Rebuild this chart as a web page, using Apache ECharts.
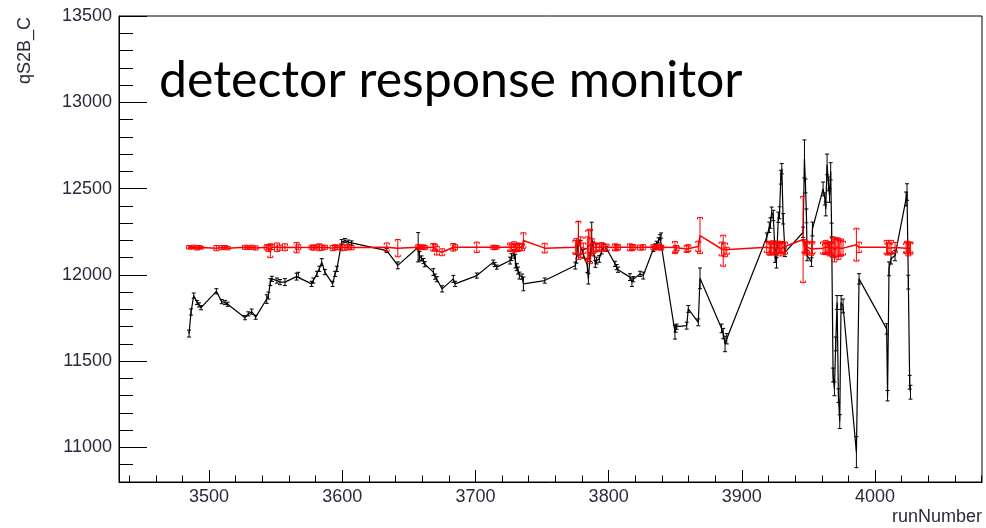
<!DOCTYPE html>
<html>
<head>
<meta charset="utf-8">
<script src="https://cdn.jsdelivr.net/npm/echarts@6/dist/echarts.min.js"></script>
<style>
  html, body { margin: 0; padding: 0; background: #fff; }
  #main { width: 986px; height: 528px; }
</style>
</head>
<body>
<div id="main"></div>
<script>
// Run numbers (shared by both graphs), grouped by data-taking period
const runs = [
  3485, 3486.5, 3488.5, 3491, 3492.5, 3494,
  3505.5, 3509.5, 3512, 3514,
  3527, 3529.5, 3532, 3535,
  3543.3, 3544.6, 3546, 3547.2, 3551, 3553.3, 3557,
  3565.7, 3567,
  3577, 3578.3, 3581, 3582.8, 3584.6, 3587, 3592.8, 3594.6, 3596,
  3599.6, 3602, 3604.5, 3607,
  3633.4, 3641.7,
  3657, 3658, 3659.5, 3661, 3662,
  3668.4, 3669.7, 3671, 3675,
  3683.4, 3684.7,
  3701,
  3713.4, 3714.5, 3716,
  3726, 3727, 3729, 3730, 3731, 3732, 3733, 3735, 3736,
  3752,
  3775, 3775.8, 3777.3, 3779, 3781, 3784, 3784.8, 3786, 3787.3, 3788.5, 3790, 3791, 3793, 3794.8, 3796, 3798.5,
  3804.8, 3806, 3807,
  3816, 3817.5, 3818.5,
  3823.6, 3826,
  3833.6, 3835, 3836, 3837.5, 3838.6, 3839.4,
  3849.8, 3850.3, 3851,
  3858.6, 3859.8,
  3867.3, 3868.6,
  3884.8, 3886, 3887.4, 3888.7,
  3918.7, 3920.6, 3921.5, 3922.4, 3923.6, 3925, 3926, 3927.4, 3928.3, 3929.3, 3930, 3931, 3932.4,
  3946, 3947, 3947.8, 3948.5, 3949, 3952.3, 3953,
  3961, 3962.4, 3963, 3964, 3965, 3965.8, 3966.7, 3967.4, 3968.5, 3969.5, 3970.5, 3971.5, 3972.5, 3973.5, 3974.5, 3976,
  3986, 3988,
  4008.7, 4009.4, 4010.5, 4012, 4015,
  4023.3, 4024, 4025, 4026, 4026.6
];

// Raw qS2B_C per run (black)
const rawValues = [
  11660, 11785, 11880, 11840, 11826, 11810,
  11905, 11845, 11840, 11830,
  11752, 11774, 11787, 11755,
  11860, 11880, 11958, 11977, 11967, 11958, 11958,
  11990, 12000,
  11948, 11967, 12006, 12035, 12074, 12016, 11948, 12006, 12035,
  12190, 12199, 12190, 12185,
  12141, 12055,
  12160, 12110, 12095, 12080, 12062,
  12016, 11990, 11975, 11919,
  11977, 11948,
  11996,
  12074, 12060, 12045,
  12083, 12103, 12122, 12080, 12045, 12025, 11996, 11990, 11948,
  11967,
  12054, 12093, 12210, 12160, 12122, 12054, 11977, 12103, 12215, 12151, 12064, 12083, 12093, 12141, 12160, 12151,
  12064, 12045, 12030,
  11987, 11958, 11975,
  12006, 11996,
  12151, 12165, 12180, 12200, 12218, 12228,
  11668, 11688, 11700,
  11706, 11803,
  11725, 11980,
  11690, 11660, 11600, 11630,
  12218, 12276, 12300, 12363, 12344, 12112, 12070, 12334, 12360, 12566, 12615, 12325, 12131,
  12247, 12672, 12515, 12342, 12112, 12074, 12266,
  12498, 12440, 12382, 12640, 12527, 12460, 12600, 12260, 11420, 11340, 11600, 11840, 11300, 11150, 11840, 11820,
  10973, 11977,
  11687, 11300, 12035, 12093, 12112,
  12440, 12480, 11958, 11378, 11320
];
const rawErrors = [
  20, 18, 15, 12, 12, 12,
  15, 12, 12, 12,
  12, 12, 15, 12,
  25, 20, 20, 15, 15, 15, 20,
  20, 15,
  15, 15, 15, 15, 20, 15, 15, 15, 15,
  15, 12, 12, 12,
  12, 20,
  85, 25, 15, 15, 15,
  20, 15, 15, 18,
  20, 15,
  15,
  12, 12, 12,
  20, 20, 25, 40, 20, 20, 20, 15, 40,
  15,
  20, 25, 100, 40, 25, 40, 30, 25, 90, 40, 20, 20, 20, 20, 20, 15,
  15, 15, 15,
  20, 25, 15,
  15, 20,
  15, 15, 15, 15, 15, 15,
  40, 20, 15,
  20, 20,
  20, 60,
  25, 30, 45, 30,
  25, 30, 30, 30, 30, 40, 30, 30, 35, 40, 30, 30, 25,
  30, 110, 40, 40, 30, 25, 40,
  40, 35, 40, 60, 40, 40, 50, 40, 40, 40, 40, 40, 40, 40, 40, 40,
  90, 30,
  30, 30, 40, 30, 30,
  40, 48, 40, 40, 40
];

// Corrected qS2B_C per run (red)
const corrValues = [
  12160, 12158, 12162, 12156, 12160, 12158,
  12155, 12158, 12160, 12155,
  12160, 12158, 12160, 12156,
  12160, 12155, 12140, 12162, 12160, 12158, 12160,
  12158, 12160,
  12160, 12158, 12162, 12160, 12158, 12160, 12155, 12160, 12158,
  12160, 12158, 12160, 12158,
  12160, 12155,
  12160, 12158, 12160, 12162, 12158,
  12160, 12158, 12140, 12131,
  12160, 12160,
  12160,
  12160, 12158, 12160,
  12160, 12158, 12162, 12160, 12158, 12160, 12162, 12160, 12199,
  12155,
  12160, 12165, 12200, 12160, 12155, 12150, 12175, 12165, 12160, 12155, 12160, 12158, 12160, 12162, 12160, 12158,
  12160, 12158, 12160,
  12160, 12158, 12160,
  12158, 12160,
  12160, 12158, 12160, 12162, 12160, 12158,
  12158, 12150, 12155,
  12150, 12155,
  12165, 12228,
  12150, 12140, 12145, 12140,
  12160, 12155, 12150, 12160, 12158, 12150, 12155, 12160, 12155, 12150, 12158, 12160, 12155,
  12205, 12165, 12160, 12155, 12160, 12150, 12158,
  12155, 12150, 12160, 12155, 12160, 12150, 12155, 12150, 12160, 12145, 12155, 12160, 12150, 12155, 12158, 12155,
  12175, 12160,
  12160, 12150, 12155, 12160, 12158,
  12155, 12160, 12150, 12158, 12155
];
const corrErrors = [
  10, 8, 10, 12, 10, 8,
  15, 12, 10, 10,
  12, 10, 12, 12,
  15, 20, 40, 15, 25, 15, 20,
  30, 15,
  12, 15, 12, 20, 15, 12, 15, 15, 12,
  20, 15, 15, 12,
  25, 50,
  15, 12, 12, 12, 12,
  22, 20, 25, 20,
  22, 15,
  30,
  12, 12, 10,
  25, 20, 30, 20, 20, 25, 20, 20, 45,
  28,
  40, 45, 110, 60, 30, 70, 85, 100, 50, 30, 25, 25, 20, 25, 20, 20,
  20, 18, 15,
  20, 18, 15,
  15, 15,
  15, 12, 15, 15, 12, 15,
  35, 20, 15,
  20, 20,
  30, 105,
  40, 90, 40, 20,
  30, 40, 35, 30, 40, 35, 30, 35, 30, 40, 35, 30, 35,
  250, 40, 35, 40, 30, 36, 36,
  35, 30, 40, 35, 30, 40, 35, 40, 60, 70, 50, 55, 60, 45, 50, 40,
  95, 30,
  40, 35, 30, 40, 30,
  30, 35, 40, 30, 35
];

// Axis ranges and tick labels
const xRange = [3432.4, 4080.3];
const yRange = [10800, 13500];
const xTickLabels = [3500, 3600, 3700, 3800, 3900, 4000];
const yTickLabels = [11000, 11500, 12000, 12500, 13000, 13500];

const xMinorTicks = [];
for (let v = 3440; v <= 4080; v += 20) xMinorTicks.push(v);
const yMinorTicks = [];
for (let v = 10900; v <= 13400; v += 100) yMinorTicks.push(v);

const labelFont = '"Liberation Sans", Arial, sans-serif';
const labelColor = '#2a2a3a';

function points(vals) {
  return runs.map((r, i) => [r, vals[i]]);
}
function withErrors(vals, errs) {
  return runs.map((r, i) => [r, vals[i], errs[i]]);
}

// Vertical error bar with end caps; bracket legs optional
function errorBar(color, cap, leg) {
  return function (params, api) {
    const x = api.value(0), y = api.value(1), e = api.value(2);
    const hi = api.coord([x, y + e]);
    const lo = api.coord([x, y - e]);
    const mk = (x1, y1, x2, y2) => ({
      type: 'line',
      shape: { x1: x1, y1: y1, x2: x2, y2: y2 },
      style: { stroke: color, lineWidth: 1 }
    });
    const parts = [
      mk(hi[0], hi[1], lo[0], lo[1]),
      mk(hi[0] - cap, hi[1], hi[0] + cap, hi[1]),
      mk(lo[0] - cap, lo[1], lo[0] + cap, lo[1])
    ];
    if (leg) {
      parts.push(
        mk(hi[0] - cap, hi[1], hi[0] - cap, hi[1] + leg),
        mk(hi[0] + cap, hi[1], hi[0] + cap, hi[1] + leg),
        mk(lo[0] - cap, lo[1], lo[0] - cap, lo[1] - leg),
        mk(lo[0] + cap, lo[1], lo[0] + cap, lo[1] - leg)
      );
    }
    return { type: 'group', children: parts };
  };
}

const axisLineStyle = { color: '#000', width: 1 };

const option = {
  animation: false,
  backgroundColor: '#fff',
  grid: {
    left: 119, right: 4, top: 16, bottom: 46,
    show: true, borderColor: '#000', borderWidth: 1,
    backgroundColor: 'transparent'
  },
  xAxis: [
    {
      type: 'value', min: xRange[0], max: xRange[1], position: 'bottom',
      axisLine: { show: true, lineStyle: axisLineStyle },
      axisTick: { show: true, inside: true, length: 12, customValues: xTickLabels, lineStyle: axisLineStyle },
      axisLabel: {
        customValues: xTickLabels, margin: 6,
        fontFamily: labelFont, fontSize: 18, color: labelColor,
        formatter: v => String(v)
      },
      splitLine: { show: false }
    },
    {
      type: 'value', min: xRange[0], max: xRange[1], position: 'bottom',
      axisLine: { show: false },
      axisTick: { show: true, inside: true, length: 6.5, customValues: xMinorTicks, lineStyle: axisLineStyle },
      axisLabel: { show: false },
      splitLine: { show: false }
    }
  ],
  yAxis: [
    {
      type: 'value', min: yRange[0], max: yRange[1], position: 'left',
      axisLine: { show: true, lineStyle: axisLineStyle },
      axisTick: { show: true, inside: true, length: 28, customValues: yTickLabels, lineStyle: axisLineStyle },
      axisLabel: {
        customValues: yTickLabels, margin: 7,
        fontFamily: labelFont, fontSize: 18, color: labelColor,
        formatter: v => String(v)
      },
      splitLine: { show: false }
    },
    {
      type: 'value', min: yRange[0], max: yRange[1], position: 'left',
      axisLine: { show: false },
      axisTick: { show: true, inside: true, length: 14, customValues: yMinorTicks, lineStyle: axisLineStyle },
      axisLabel: { show: false },
      splitLine: { show: false }
    }
  ],
  graphic: [
    {
      type: 'text', x: 25, y: 17, rotation: Math.PI / 2, z: 10,
      style: {
        text: 'qS2B_C', font: '18px ' + labelFont, fill: labelColor,
        align: 'right', verticalAlign: 'middle',
        textAlign: 'right', textVerticalAlign: 'middle'
      }
    },
    {
      type: 'text', x: 982, y: 517, z: 10,
      style: {
        text: 'runNumber', font: '18px ' + labelFont, fill: labelColor,
        align: 'right', verticalAlign: 'middle',
        textAlign: 'right', textVerticalAlign: 'middle'
      }
    },
    {
      type: 'text', x: 159, y: 81, z: 10,
      style: {
        text: 'detector response monitor', font: '50px Lato, "Open Sans", sans-serif', fill: '#000',
        align: 'left', verticalAlign: 'middle',
        textAlign: 'left', textVerticalAlign: 'middle'
      }
    }
  ],
  series: [
    {
      name: 'raw', type: 'line', xAxisIndex: 0, yAxisIndex: 0,
      data: points(rawValues), symbol: 'none', showSymbol: false,
      lineStyle: { color: '#000', width: 1.2 }, z: 2, clip: true
    },
    {
      name: 'raw errors', type: 'custom', xAxisIndex: 0, yAxisIndex: 0,
      data: withErrors(rawValues, rawErrors),
      encode: { x: 0, y: 1 },
      renderItem: errorBar('#000', 2, 0), z: 3, clip: true
    },
    {
      name: 'corrected', type: 'line', xAxisIndex: 0, yAxisIndex: 0,
      data: points(corrValues), symbol: 'none', showSymbol: false,
      lineStyle: { color: '#ff0000', width: 1.5 }, z: 4, clip: true
    },
    {
      name: 'corrected errors', type: 'custom', xAxisIndex: 0, yAxisIndex: 0,
      data: withErrors(corrValues, corrErrors),
      encode: { x: 0, y: 1 },
      renderItem: errorBar('#ff0000', 2.5, 2), z: 5, clip: true
    }
  ]
};

const chart = echarts.init(document.getElementById('main'));
chart.setOption(option);
</script>
</body>
</html>
